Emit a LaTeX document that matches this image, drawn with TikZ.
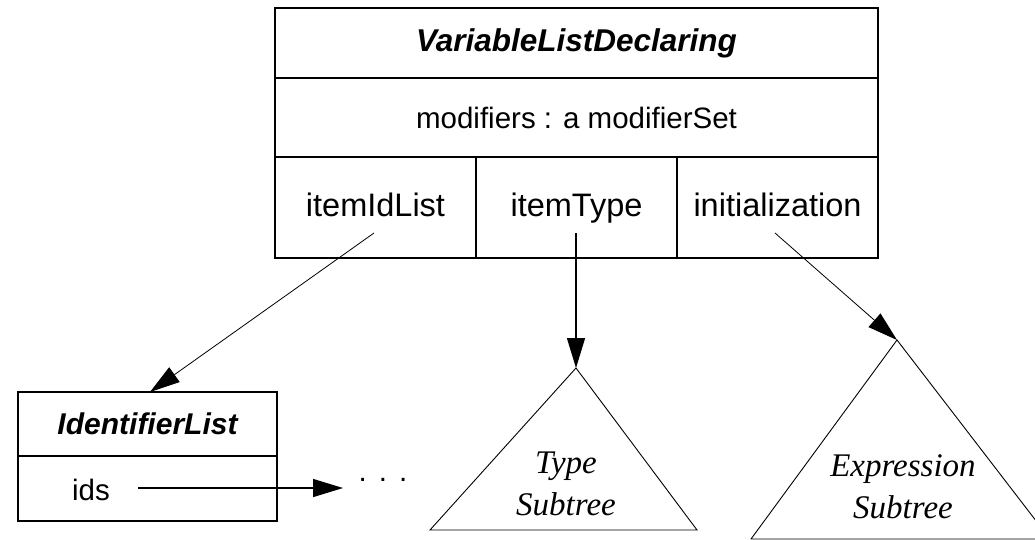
\documentclass[tikz,border=0pt]{standalone}
\usepackage{fontspec}
\setmainfont{Liberation Serif}
\setsansfont{Liberation Sans}
\usetikzlibrary{arrows.meta}
\tikzset{
  cell/.style={draw, line width=1.3pt, rectangle, inner sep=0pt, font=\sffamily},
  big/.style={font=\sffamily\fontsize{32.5}{38}\selectfont, text height=22pt, text depth=4pt},
  mid/.style={font=\sffamily\fontsize{29.5}{34}\selectfont},
  ttl/.style={font=\sffamily\bfseries\itshape\fontsize{31.5}{36}\selectfont},
  idttl/.style={font=\sffamily\bfseries\itshape\fontsize{30}{36}\selectfont},
  tri/.style={draw, line width=0.9pt, line join=miter},
  sub/.style={font=\rmfamily\itshape\fontsize{33}{38}\selectfont, align=center, inner sep=0pt},
  thin/.style={line width=0.8pt, -{Triangle[length=30pt,width=18pt]}},
  thick/.style={line width=1.4pt, -{Triangle[length=30pt,width=18pt]}},
}
\begin{document}
\begin{tikzpicture}[x=1pt,y=-1pt]
\useasboundingbox (0,0) rectangle (1035,539);
\clip (0,0) rectangle (1035,539);
% main class box
\node[cell, ttl, minimum width=603pt, minimum height=70pt] (title) at (576.5,43) {VariableListDeclaring};
\node[cell, mid, minimum width=603pt, minimum height=79pt] (mods) at (576.5,117.5) {modifiers : a modifierSet};
\node[cell, big, minimum width=201pt, minimum height=101pt] (c1) at (375.5,207.5) {itemIdList};
\node[cell, big, minimum width=201pt, minimum height=101pt] (c2) at (576.5,207.5) {itemType};
\node[cell, big, minimum width=201pt, minimum height=101pt] (c3) at (777.5,207.5) {initialization};
% identifier list box
\node[cell, idttl, minimum width=259pt, minimum height=64pt] (idl) at (147.5,424) {IdentifierList};
\node[cell, minimum width=259pt, minimum height=65pt] (idsbox) at (147.5,488.5) {};
\node[mid, anchor=west, inner sep=0pt] (ids) at (72,490) {ids};
\node[mid, inner sep=0pt] (dots) at (383,480) {.\hspace{12pt}.\hspace{12pt}.};
% triangles
\coordinate (tA) at (576,368);
\coordinate (tL) at (430,530);
\coordinate (tR) at (697,530);
\draw[tri] (tA) -- (tL) -- (tR) -- cycle;
\node[sub] (ttxt) at (566,484) {Type\\[4pt]Subtree};
\coordinate (eA) at (897,340);
\coordinate (eL) at (751,539);
\coordinate (eR) at (1050,539);
\draw[tri] (eA) -- (eL) -- (eR) -- cycle;
\node[sub] (etxt) at (903,487) {Expression\\[4pt]Subtree};
% connectors
\coordinate (s1) at (374,233);
\coordinate (s2) at (576,233);
\coordinate (s3) at (775,233);
\coordinate (idtop) at (150,392);
\draw[thin] (s1) -- (idtop);
\draw[thick] (s2) -- (tA);
\draw[thin] (s3) -- (eA);
\coordinate (idsS) at (138,488);
\coordinate (idsE) at (343,488);
\draw[thick] (idsS) -- (idsE);
\end{tikzpicture}
\end{document}
